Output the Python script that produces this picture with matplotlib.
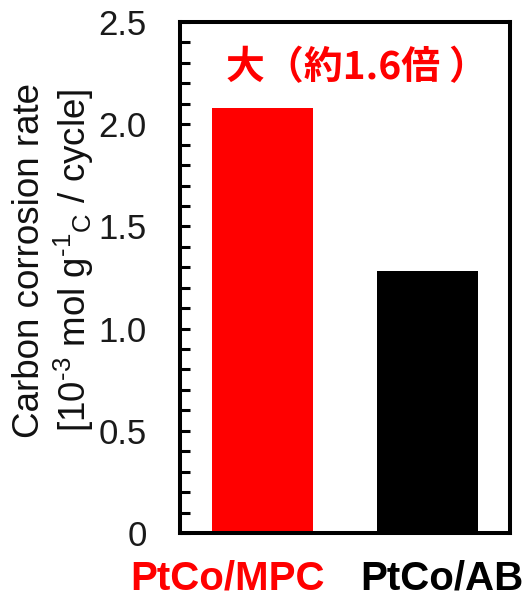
import matplotlib
matplotlib.use("Agg")
import matplotlib.pyplot as plt
from matplotlib.ticker import MultipleLocator, FuncFormatter
from matplotlib.transforms import ScaledTranslation

plt.rcParams["font.family"] = ["Liberation Sans", "DejaVu Sans"]
plt.rcParams["mathtext.fontset"] = "custom"
plt.rcParams["mathtext.rm"] = "Liberation Sans"
plt.rcParams["mathtext.it"] = "Liberation Sans:italic"
plt.rcParams["mathtext.bf"] = "Liberation Sans:bold"

# Data
categories = ["PtCo/MPC", "PtCo/AB"]
rates = [2.08, 1.28]
bar_colors = ["#FF0000", "#000000"]
label_offsets_pt = [-25, 10]
annotation = "大（約1.6倍 ）"

fig = plt.figure(figsize=(5.27, 5.99), dpi=100)
ax = fig.add_axes([180 / 527, 66 / 599, 330 / 527, 511 / 599])

x = list(range(len(categories)))
ax.bar(x, rates, width=0.615, color=bar_colors)

ax.set_xlim(-0.5, 1.5)
ax.set_ylim(0, 2.5)

for side in ["left", "right", "top", "bottom"]:
    ax.spines[side].set_linewidth(2.9)

ax.yaxis.set_major_locator(MultipleLocator(0.5))
ax.yaxis.set_minor_locator(MultipleLocator(0.1))
ax.yaxis.set_major_formatter(FuncFormatter(lambda v, p: "0" if v == 0 else f"{v:.1f}"))
ax.tick_params(axis="y", which="both", direction="in", length=7.5, width=2.2,
               labelsize=25, pad=24, colors="#000000")
ax.tick_params(axis="y", labelcolor="#1a1a1a")

ax.set_xticks(x)
ax.set_xticklabels(categories, fontsize=29, fontweight="bold")
ax.tick_params(axis="x", length=0, pad=19)
for lab, col, dx in zip(ax.get_xticklabels(), bar_colors, label_offsets_pt):
    lab.set_color(col)
    lab.set_transform(lab.get_transform() + ScaledTranslation(dx / 72, 0, fig.dpi_scale_trans))

fig.text(54 / 527, 1 - 260 / 599,
         "Carbon corrosion rate\n[10$^{\u20103}$ mol g$^{\u20101}$$_{\\mathrm{C}}$ / cycle]",
         rotation=90, ha="center", va="center", multialignment="center",
         fontsize=26.5, color="#111111", linespacing=1.12)

ax.text(0.5 + 12 / 330, 1 - (68 - 22) / 511, annotation, transform=ax.transAxes,
        ha="center", va="center", fontsize=28, fontweight="bold", color="#FF0000",
        family=["Noto Sans CJK JP", "DejaVu Sans"])

fig.savefig("out.png", dpi=100)
